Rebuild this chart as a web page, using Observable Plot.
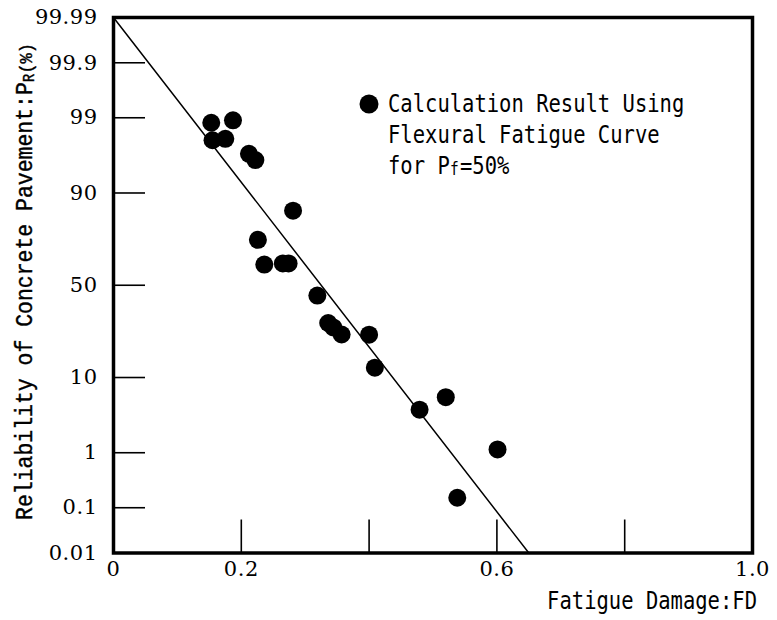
<!DOCTYPE html>
<html><head><meta charset="utf-8">
<script src="https://cdn.jsdelivr.net/npm/d3@7"></script>
<script src="https://cdn.jsdelivr.net/npm/@observablehq/plot@0.6"></script>
<style>body{margin:0;background:#fff}</style>
</head><body><div id="chart"></div>
<script>
// Data
const fatigueDamage = [0.153,0.187,0.155,0.175,0.212,0.222,0.281,0.226,0.236,0.265,0.274,0.319,0.336,0.344,0.357,0.400,0.409,0.479,0.520,0.601,0.538];
const reliability   = [98.8, 98.9, 97.8, 97.9, 96.6, 95.9, 85.0, 73.6, 61.3, 61.9, 61.9, 44.3, 30.0, 27.9, 24.7, 24.6, 12.6, 4.2, 6.0, 1.13, 0.158];
const lineDamage = [0, 0.65];
const lineReliability = [99.99, 0.01];
const yTickValues = [0.01, 0.1, 1, 10, 50, 90, 99, 99.9, 99.99];
const yTickLabels = ["0.01","0.1","1","10","50","90","99","99.9","99.99"];
const yInnerTicks = [0.1, 1, 10, 50, 90, 99, 99.9];
const xLabelValues = [0, 0.2, 0.6, 1.0];
const xLabelTexts = ["0","0.2","0.6","1.0"];
const xInnerTicks = [0.2, 0.4, 0.6, 0.8];
const yDomainPct = [0.01, 99.99];

// inverse normal CDF (Acklam)
function probit(p){
  const a=[-3.969683028665376e+01,2.209460984245205e+02,-2.759285104469687e+02,1.383577518672690e+02,-3.066479806614716e+01,2.506628277459239e+00];
  const b=[-5.447609879822406e+01,1.615858368580409e+02,-1.556989798598866e+02,6.680131188771972e+01,-1.328068155288572e+01];
  const c=[-7.784894002430293e-03,-3.223964580411365e-01,-2.400758277161838e+00,-2.549732539343734e+00,4.374664141464968e+00,2.938163982698783e+00];
  const d=[7.784695709041462e-03,3.224671290700398e-01,2.445134137142996e+00,3.754408661907416e+00];
  const pl=0.02425, ph=1-pl; let q,r;
  if(p<pl){q=Math.sqrt(-2*Math.log(p));return (((((c[0]*q+c[1])*q+c[2])*q+c[3])*q+c[4])*q+c[5])/((((d[0]*q+d[1])*q+d[2])*q+d[3])*q+1);}
  if(p<=ph){q=p-0.5;r=q*q;return (((((a[0]*r+a[1])*r+a[2])*r+a[3])*r+a[4])*r+a[5])*q/(((((b[0]*r+b[1])*r+b[2])*r+b[3])*r+b[4])*r+1);}
  q=Math.sqrt(-2*Math.log(1-p));return -(((((c[0]*q+c[1])*q+c[2])*q+c[3])*q+c[4])*q+c[5])/((((d[0]*q+d[1])*q+d[2])*q+d[3])*q+1);
}
const z = pct => probit(pct/100);

const points = fatigueDamage.map((x,i)=>({x, y: z(reliability[i])}));
const lineData = lineDamage.map((x,i)=>({x, y: z(lineReliability[i])}));
const yTickZ = yTickValues.map(z);
const labelFor = v => yTickLabels[yTickZ.indexOf(v)];

const serif = "'DejaVu Serif', serif";
const tickText = {fontFamily: serif, fontSize: 21};

const plot = Plot.plot({
  width: 777, height: 620,
  marginLeft: 113, marginRight: 25, marginTop: 17, marginBottom: 67.5,
  style: {background: "white", color: "black"},
  x: {domain: [0, 1]},
  y: {domain: yDomainPct.map(z)},
  marks: [
    Plot.axisY({ticks: yTickZ, tickFormat: labelFor, tickSize: 0, tickPadding: 16, label: null, ...tickText}),
    Plot.axisY({ticks: yInnerTicks.map(z), tickFormat: () => "", tickSize: -32, strokeWidth: 1.6, label: null}),
    Plot.axisX({ticks: xLabelValues, tickFormat: d => xLabelTexts[xLabelValues.indexOf(d)], tickSize: 0, tickPadding: 8, label: null, ...tickText}),
    Plot.axisX({ticks: xInnerTicks, tickFormat: () => "", tickSize: -33, strokeWidth: 1.6, label: null}),
    Plot.line(lineData, {x: "x", y: "y", stroke: "black", strokeWidth: 1.5}),
    Plot.dot(points, {x: "x", y: "y", r: 9, fill: "black", stroke: "none"}),
    Plot.frame({stroke: "black", strokeWidth: 3.5})
  ]
});
document.getElementById("chart").appendChild(plot);

const svg = d3.select(plot);
svg.selectAll("g[aria-label$='tick label'], g[aria-label$='tick label'] text")
  .style("font-family", serif).style("font-size", "21px").style("letter-spacing", "0.5px");

const mono = "'DejaVu Sans Mono', monospace";
const monoSerif = "'Liberation Mono', monospace";
const sx = 0.855; // horizontal squeeze to match the narrow monospaced face

function monoText(x, y, anchor, t, size = 24) {
  return svg.append("text").attr("transform", `translate(${x},${y}) scale(${sx},1)`)
    .attr("text-anchor", anchor)
    .style("font-family", mono).style("font-size", size + "px").attr("fill", "black").text(t);
}

// x-axis title
monoText(757, 609, "end", "Fatigue Damage:FD");

// y-axis title
const yt = svg.append("text").attr("transform", "translate(32,520) rotate(-90)")
  .attr("text-anchor", "start").style("font-family", monoSerif).style("font-size", "24px")
  .style("stroke", "black").style("stroke-width", "0.4px")
  .attr("textLength", 477).attr("lengthAdjust", "spacingAndGlyphs");
yt.append("tspan").text("Reliability of Concrete Pavement:P");
yt.append("tspan").style("font-size", "16px").attr("dy", 2).text("R");
yt.append("tspan").style("font-size", "19px").attr("dy", -2).text("(%)");

// legend
svg.append("circle").attr("cx", 369).attr("cy", 104).attr("r", 9.5).attr("fill", "black");
monoText(388, 112, "start", "Calculation Result Using");
monoText(388, 143, "start", "Flexural Fatigue Curve");
monoText(388, 174, "start", "for P");
monoText(450, 175, "start", "f", 17);
monoText(460, 174, "start", "=50%");
</script>
</body></html>
